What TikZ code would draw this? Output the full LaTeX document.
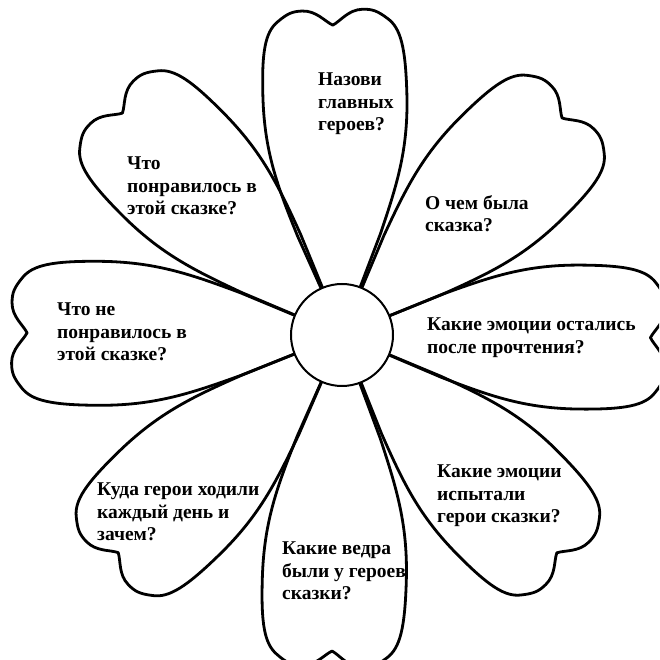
\documentclass[tikz,border=0pt]{standalone}
\usepackage{fontspec}
\setmainfont{Liberation Serif}
\tikzset{
  petalline/.style={line width=2.8pt, line join=round, line cap=round, black},
  petal/.pic={
    \draw[petalline] (45,-18.6) -- (100,-41.4)
      .. controls (150,-60) and (185,-72) .. (240,-72)
      .. controls (285,-72) and (305,-68) .. (315,-55)
      .. controls (323,-45) and (325,-40) .. (325,-30)
      .. controls (325,-16) and (314,-8) .. (310,0)
      .. controls (314,8) and (325,16) .. (325,30)
      .. controls (325,40) and (323,45) .. (315,55)
      .. controls (305,68) and (285,72) .. (240,72)
      .. controls (185,72) and (150,60) .. (100,41.4) -- (45,18.6);
  },
  txt/.style={font=\bfseries\fontsize{19.5}{22.5}\selectfont, align=left,
    inner sep=0pt, anchor=north west, text=black}
}
\begin{document}
\begin{tikzpicture}[x=1pt,y=1pt]
\useasboundingbox (-342,-325) rectangle (317,335);
\clip (-342,-325) rectangle (317,335);
\pic[rotate=-0.5, xscale=0.995] {petal};
\pic[rotate=44.6, xscale=0.997] {petal};
\pic[rotate=91.7] {petal};
\pic[rotate=134.7, xscale=1.007] {petal};
\pic[rotate=179.6, xscale=1.016] {petal};
\pic[rotate=224.2, xscale=1.007] {petal};
\pic[rotate=268.2, xscale=1.02] {petal};
\pic[rotate=314.6, xscale=0.987] {petal};
\node[circle, draw, line width=2pt, fill=white, minimum size=102pt, inner sep=0pt] (c) at (0,0) {};
\node[txt] (t1) at (-24,262) {Назови\\главных\\героев?};
\node[txt] (t2) at (-215,178) {Что\\понравилось в\\этой сказке?};
\node[txt] (t3) at (-285,32) {Что не\\понравилось в\\этой сказке?};
\node[txt] (t4) at (83,140) {О чем была\\сказка?};
\node[txt] (t5) at (85,17) {Какие эмоции остались\\после прочтения?};
\node[txt] (t6) at (95,-130) {Какие эмоции\\испытали\\герои сказки?};
\node[txt] (t7) at (-60,-207) {Какие ведра\\были у героев\\сказки?};
\node[txt] (t8) at (-245,-148) {Куда герои ходили\\каждый день и\\зачем?};
\end{tikzpicture}
\end{document}
